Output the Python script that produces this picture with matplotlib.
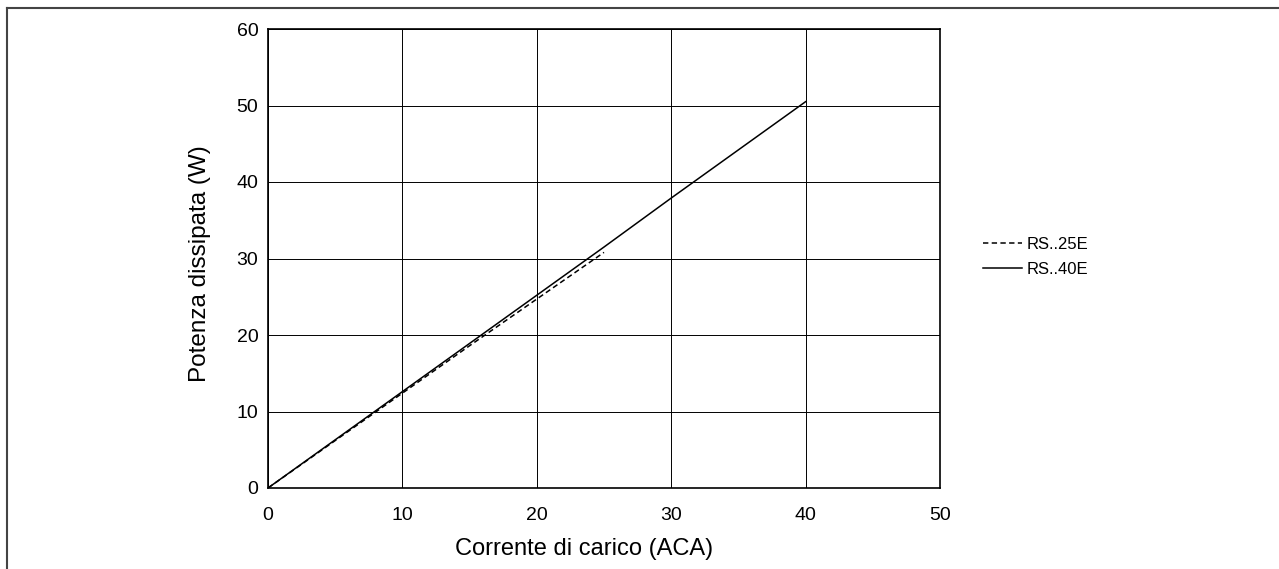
import matplotlib
matplotlib.use("Agg")
import matplotlib.pyplot as plt
from matplotlib.lines import Line2D

plt.rcParams["font.family"] = ["Liberation Sans", "DejaVu Sans"]

# dati
corrente_25 = [0, 5, 10, 15, 20, 25]
potenza_25 = [0, 6.2, 12.4, 18.6, 24.7, 30.8]
corrente_40 = [0, 5, 10, 15, 20, 25, 30, 35, 40]
potenza_40 = [0, 6.3, 12.6, 18.9, 25.2, 31.5, 37.9, 44.2, 50.5]

x_ticks = [0, 10, 20, 30, 40, 50]
y_ticks = [0, 10, 20, 30, 40, 50, 60]

W, H = 1279, 569
fig = plt.figure(figsize=(W / 100, H / 100), dpi=100)
ax = fig.add_axes([268 / W, 1 - 488 / H, (940 - 268) / W, (488 - 29) / H])

ax.plot(corrente_25, potenza_25, color="black", lw=1.1, dashes=(3.5, 2.2), label="RS..25E")
ax.plot(corrente_40, potenza_40, color="black", lw=1.1, label="RS..40E")

ax.set_xlim(0, 50)
ax.set_ylim(0, 60)
ax.set_xticks(x_ticks)
ax.set_yticks(y_ticks)
ax.grid(True, color="black", lw=0.7)
ax.tick_params(labelsize=14, length=0)
ax.tick_params(axis="x", pad=14)
ax.tick_params(axis="y", pad=7)
for s in ax.spines.values():
    s.set_linewidth(1.2)
ax.set_xlabel("Corrente di carico (ACA)", fontsize=17)
ax.set_ylabel("Potenza dissipata (W)", fontsize=17.5)
ax.xaxis.set_label_coords((584 - 268) / (940 - 268), -(549 - 488) / (488 - 29))
ax.yaxis.set_label_coords(-(268 - 200) / (940 - 268), (488 - 264) / (488 - 29))
ax.xaxis.label.set_va("center")
ax.yaxis.label.set_va("center")

fig.legend(loc="center left", bbox_to_anchor=(968 / W, 1 - 257 / H),
           frameon=False, fontsize=12, handlelength=2.35, handletextpad=0.25,
           labelspacing=0.6)

# cornice (solo lati superiore e sinistro)
fig.add_artist(Line2D([7 / W, 1], [1 - 8 / H, 1 - 8 / H], transform=fig.transFigure,
                      color="#444444", lw=1.5))
fig.add_artist(Line2D([7 / W, 7 / W], [0, 1 - 8 / H], transform=fig.transFigure,
                      color="#444444", lw=1.5))

fig.savefig("out.png", dpi=100)
